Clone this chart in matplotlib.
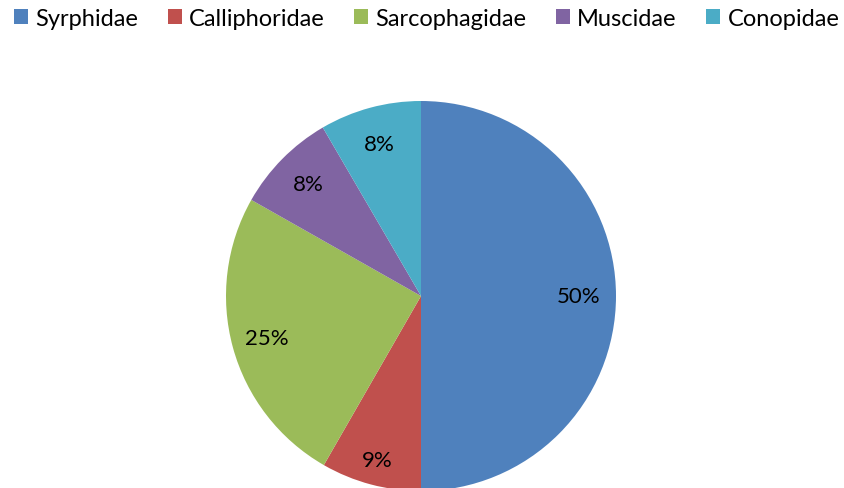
import matplotlib
matplotlib.use("Agg")
import matplotlib.pyplot as plt
import numpy as np

categories = ["Syrphidae", "Calliphoridae", "Sarcophagidae", "Muscidae", "Conopidae"]
values = [50, 8.3, 24.9, 8.4, 8.4]          # wedge sizes as drawn
pct_labels = ["50%", "9%", "25%", "8%", "8%"]  # labels as printed
colors = ["#4F81BD", "#C0504D", "#9BBB59", "#8064A2", "#4BACC6"]
label_dist = [0.81, 0.87, 0.82, 0.815, 0.81]

plt.rcParams['font.family'] = ['Lato', 'DejaVu Sans']

W, H = 845, 489
fig = plt.figure(figsize=(W/100, H/100), dpi=100)
cx, cy, r = 421, 489-297, 195
ax = fig.add_axes([(cx-r)/W, (cy-r)/H, 2*r/W, 2*r/H])
wedges, texts = ax.pie(values, colors=colors, startangle=90, counterclock=False,
                       radius=1, wedgeprops=dict(linewidth=0))
for w, lab, d in zip(wedges, pct_labels, label_dist):
    ang = np.deg2rad((w.theta1 + w.theta2) / 2)
    ax.text(d*np.cos(ang), d*np.sin(ang), lab, ha='center', va='center',
            fontsize=16, color='black')
ax.set_xlim(-1, 1)
ax.set_ylim(-1, 1)
ax.set_aspect('equal')
ax.axis('off')

fig.legend(wedges, categories, loc='upper center', bbox_to_anchor=(0.505, 1.025), ncol=5,
           frameon=False, fontsize=17, handlelength=0.6, handleheight=0.6,
           handletextpad=0.3, columnspacing=1.25)
fig.savefig("out.png", dpi=100)
